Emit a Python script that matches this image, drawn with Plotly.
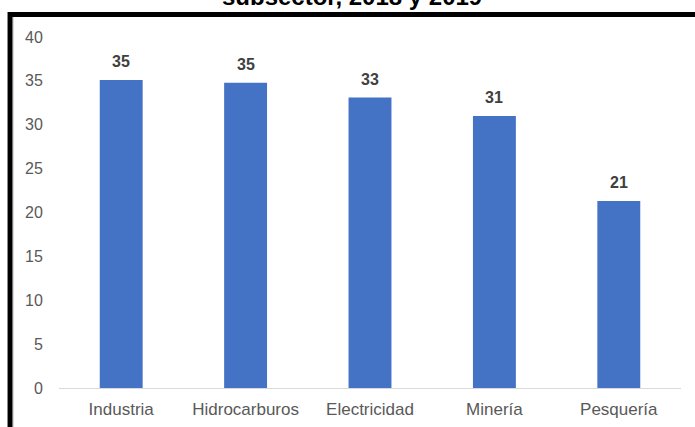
import plotly.graph_objects as go

categories = ["Industria", "Hidrocarburos", "Electricidad", "Minería", "Pesquería"]
values = [35.1, 34.8, 33.1, 31.0, 21.3]
labels = ["35", "35", "33", "31", "21"]
y_ticks = [0, 5, 10, 15, 20, 25, 30, 35, 40]
title_text = "subsector, 2018 y 2019"

W, H = 695, 427
ml, mr, mt, mb = 58.5, 14, 37, 38.5
pw, ph = W - ml - mr, H - mt - mb

def px_x(p):
    return (p - ml) / pw

def px_y(p):
    return (H - mb - p) / ph

fig = go.Figure()
fig.add_trace(go.Bar(
    x=categories, y=values,
    marker=dict(color="#4472C4", line=dict(width=0)),
    hoverinfo="skip",
))

for c, v, t in zip(categories, values, labels):
    fig.add_annotation(
        x=c, y=v, xref="x", yref="y", text=t, showarrow=False,
        yanchor="bottom", yshift=8,
        font=dict(family="Arial, Liberation Sans", size=16, color="#404040", weight="bold"),
    )

fig.add_annotation(
    x=px_x(352), y=px_y(12), xref="paper", yref="paper",
    text="<b>" + title_text + "</b>", showarrow=False,
    xanchor="center", yanchor="bottom",
    font=dict(family="Arial, Liberation Sans", size=24, color="#000000"),
)

fig.add_shape(
    type="rect", xref="paper", yref="paper",
    x0=px_x(9.5), x1=px_x(720), y0=px_y(460), y1=px_y(14.5),
    line=dict(color="#000000", width=5), fillcolor="rgba(0,0,0,0)",
    layer="above",
)
fig.add_shape(
    type="line", xref="paper", yref="paper",
    x0=px_x(13), x1=px_x(13), y0=px_y(460), y1=px_y(17),
    line=dict(color="#D9D9D9", width=1),
)

fig.update_layout(
    width=W, height=H,
    margin=dict(l=ml, r=mr, t=mt, b=mb, pad=0, autoexpand=False),
    paper_bgcolor="white", plot_bgcolor="white",
    showlegend=False,
    bargap=0.655,
    font=dict(family="Arial, Liberation Sans", color="#595959"),
    xaxis=dict(
        automargin=False,
        showgrid=False, zeroline=False, showline=True, linecolor="#D9D9D9", linewidth=1,
        ticks="outside", ticklen=6, tickcolor="rgba(0,0,0,0)",
        tickfont=dict(size=17, color="#595959"),
    ),
    yaxis=dict(
        automargin=False,
        range=[0, 40], tickvals=y_ticks, showgrid=False, zeroline=False, showline=False,
        ticks="outside", ticklen=12, tickcolor="rgba(0,0,0,0)",
        tickfont=dict(size=16, color="#595959"),
    ),
)

fig.write_html("out.html", config={"displayModeBar": False},
               post_script="document.body.style.margin='0';")
